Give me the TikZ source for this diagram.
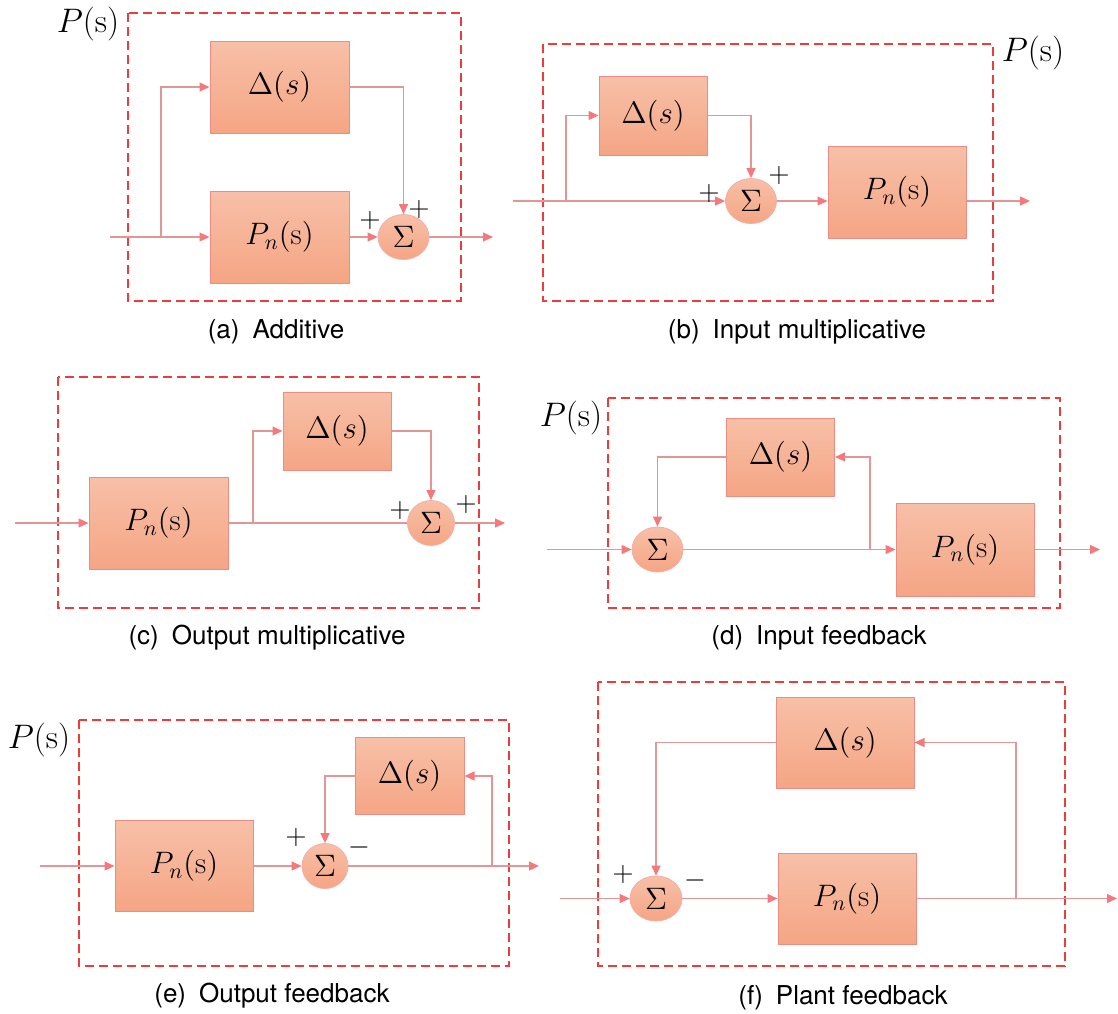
\RequirePackage{fix-cm}
\documentclass[tikz,border=0pt]{standalone}
\usepackage{fontspec}
\setsansfont{TeX Gyre Heros}
\usetikzlibrary{arrows.meta,shapes.geometric}
\definecolor{boxtop}{RGB}{247,192,168}
\definecolor{boxbot}{RGB}{245,165,132}
\definecolor{boxedge}{RGB}{236,140,130}
\definecolor{linec}{RGB}{226,150,150}
\definecolor{tipc}{RGB}{245,120,125}
\definecolor{dashc}{RGB}{236,60,60}
\begin{document}
\begin{tikzpicture}[x=0.5pt,y=-0.5pt,
 blk/.style={draw=boxedge, line width=0.5pt, top color=boxtop, bottom color=boxbot, inner sep=0pt, font=\fontsize{15.5}{18}\selectfont},
 sumnode/.style={ellipse, draw=boxedge!70, top color=boxtop, bottom color=boxbot, minimum width=25.5pt, minimum height=22.5pt, inner sep=0pt, font=\fontsize{15.5}{18}\selectfont},
 arr/.style={draw=linec, line width=0.6pt, -{Triangle[length=5pt,width=4.5pt,color=tipc]}},
 ln/.style={draw=linec, line width=0.6pt},
 frame/.style={draw=dashc, line width=1pt, dash pattern=on 4.5pt off 2.5pt},
 captext/.style={font=\sffamily\fontsize{13}{15}\selectfont},
 plab/.style={font=\fontsize{17}{20}\selectfont},
 sgn/.style={font=\fontsize{14}{16}\selectfont, inner sep=0pt}
]
\useasboundingbox (0,0) rectangle (1118,1013);

% ---------------- (a) Additive
\draw[frame] (128,13) rectangle (461,301);
\node[plab] (aP) at (88,24) {$P(\mathrm{s})$};
\node[blk, minimum width=69.5pt, minimum height=46pt] (ad) at (279.5,87) {$\Delta(s)$};
\node[blk, minimum width=69.5pt, minimum height=46pt] (apn) at (279.5,237) {$P_n(\mathrm{s})$};
\node[sumnode] (as) at (403.5,237) {$\Sigma$};
\coordinate (ain) at (110,237);
\coordinate (abr) at (161,237);
\coordinate (aout) at (493,237);
\draw[ln] (ain) -- (abr);
\draw[arr] (abr) -- (apn.west);
\draw[arr] (abr) |- (ad.west);
\draw[arr] (ad.east) -| (as.north);
\draw[arr] (apn.east) -- (as.west);
\draw[arr] (as.east) -- (aout);
\node[sgn] (ap1) at (370,220) {$+$};
\node[sgn] (ap2) at (419,209) {$+$};
\node[captext] (acap) at (276,332) {(a)\hspace{0.5em}Additive};

% ---------------- (b) Input multiplicative
\draw[frame] (543,44) rectangle (993,301);
\node[plab] (bP) at (1033,53) {$P(\mathrm{s})$};
\node[blk, minimum width=54pt, minimum height=39.5pt] (bd) at (653,115.5) {$\Delta(s)$};
\node[sumnode] (bs) at (751,201) {$\Sigma$};
\node[blk, minimum width=69pt, minimum height=46pt] (bpn) at (897,192) {$P_n(\mathrm{s})$};
\coordinate (bin) at (513,201);
\coordinate (bbr) at (566,201);
\coordinate (bout) at (1030,201);
\draw[ln] (bin) -- (bbr);
\draw[arr] (bbr) -- (bs.west);
\draw[arr] (bbr) |- (bd.west);
\draw[arr] (bd.east) -| (bs.north);
\draw[arr] (bs.east) -- (bs.east -| bpn.west);
\draw[arr] (bpn.east |- bout) -- (bout);
\node[sgn] (bp1) at (709,193) {$+$};
\node[sgn] (bp2) at (779,175) {$+$};
\node[captext] (bcap) at (797,332) {(b)\hspace{0.5em}Input multiplicative};

% ---------------- (c) Output multiplicative
\draw[frame] (58,377) rectangle (479,608);
\node[blk, minimum width=54pt, minimum height=39pt] (cd) at (337,431) {$\Delta(s)$};
\node[blk, minimum width=69.5pt, minimum height=46pt] (cpn) at (158.5,523) {$P_n(\mathrm{s})$};
\node[sumnode, minimum width=23.5pt] (cs) at (431,523) {$\Sigma$};
\coordinate (cin) at (15,523);
\coordinate (cbr) at (253,523);
\coordinate (cout) at (505,523);
\draw[arr] (cin) -- (cpn.west);
\draw[ln] (cpn.east) -- (cs.west);
\draw[arr] (cbr) |- (cd.west);
\draw[arr] (cd.east) -| (cs.north);
\draw[arr] (cs.east) -- (cout);
\node[sgn] (cp1) at (400,510) {$+$};
\node[sgn] (cp2) at (466,504) {$+$};
\node[captext] (ccap) at (267,638) {(c)\hspace{0.5em}Output multiplicative};

% ---------------- (d) Input feedback
\draw[frame] (608,398) rectangle (1060,608);
\node[plab] (dP) at (571,418) {$P(\mathrm{s})$};
\node[blk, minimum width=54pt, minimum height=39pt] (dd) at (780.5,457) {$\Delta(s)$};
\node[sumnode] (ds) at (657.5,549.5) {$\Sigma$};
\node[blk, minimum width=69pt, minimum height=46.5pt] (dpn) at (965,549.5) {$P_n(\mathrm{s})$};
\coordinate (din) at (547,549.5);
\coordinate (dbr) at (870,549.5);
\coordinate (dout) at (1100,549.5);
\draw[arr] (din) -- (ds.west);
\draw[arr] (ds.east) -- (dpn.west);
\draw[arr] (dbr) |- (dd.east);
\draw[arr] (dd.west) -| (ds.north);
\draw[arr] (dpn.east) -- (dout);
\node[captext] (dcap) at (819,638) {(d)\hspace{0.5em}Input feedback};

% ---------------- (e) Output feedback
\draw[frame] (79,720) rectangle (509,966);
\node[plab] (eP) at (39,740) {$P(\mathrm{s})$};
\node[blk, minimum width=54.5pt, minimum height=38.5pt] (ed) at (409.5,776) {$\Delta(s)$};
\node[blk, minimum width=69pt, minimum height=45.5pt] (epn) at (184,866) {$P_n(\mathrm{s})$};
\node[sumnode, minimum width=23pt] (es) at (325,866) {$\Sigma$};
\coordinate (ein) at (40,866);
\coordinate (ebr) at (492,866);
\coordinate (eout) at (539,866);
\draw[arr] (ein) -- (epn.west);
\draw[arr] (epn.east) -- (es.west);
\draw[arr] (es.east) -- (eout);
\draw[arr] (ebr) |- (ed.east);
\draw[arr] (ed.west) -| (es.north);
\node[sgn] (ep1) at (296,837) {$+$};
\node[sgn] (em1) at (359,847) {$-$};
\node[captext] (ecap) at (272,996) {(e)\hspace{0.5em}Output feedback};

% ---------------- (f) Plant feedback
\draw[frame] (598,682) rectangle (1065,966);
\node[blk, minimum width=69pt, minimum height=45.5pt] (fd) at (845,742.5) {$\Delta(s)$};
\node[blk, minimum width=69pt, minimum height=45.5pt] (fpn) at (847,898.5) {$P_n(\mathrm{s})$};
\node[sumnode, minimum width=26pt] (fs) at (656,898.5) {$\Sigma$};
\coordinate (fin) at (560,898.5);
\coordinate (fbr) at (1016,898.5);
\coordinate (fout) at (1117,898.5);
\draw[arr] (fin) -- (fs.west);
\draw[arr] (fs.east) -- (fpn.west);
\draw[arr] (fpn.east) -- (fout);
\draw[arr] (fbr) |- (fd.east);
\draw[arr] (fd.west) -| (fs.north);
\node[sgn] (fp1) at (623,874) {$+$};
\node[sgn] (fm1) at (695,880) {$-$};
\node[captext] (fcap) at (843,998) {(f)\hspace{0.5em}Plant feedback};
\end{tikzpicture}
\end{document}
